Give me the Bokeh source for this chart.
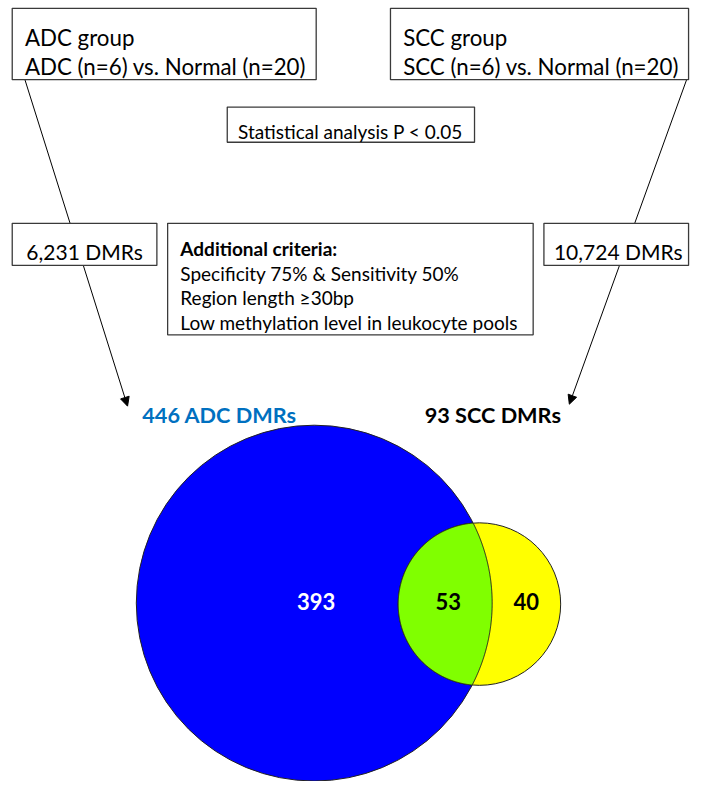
import numpy as np
from bokeh.plotting import figure
from bokeh.models import Arrow, NormalHead, Range1d
from bokeh.core.properties import value
from bokeh.embed import file_html
from bokeh.resources import INLINE

# ---------------- data ----------------
groups = ["ADC", "SCC"]
group_n = [6, 6]
normal_n = 20
p_threshold = 0.05
dmr_initial = [6231, 10724]
dmr_final = [446, 93]
overlap = 53
criteria_title = "Additional criteria:"
criteria = ["Specificity 75% & Sensitivity 50%",
            "Region length \u226530bp",
            "Low methylation level in leukocyte pools"]
region_counts = [dmr_final[0] - overlap, overlap, dmr_final[1] - overlap]

# ---------------- layout (reference pixel space) ----------------
FONT = "Lato"
BIG = "22.3px"
MID = "21px"
SMALL = "19px"
BOX_LINE = "#3a3a3a"
W, H = 707, 799

p = figure(width=691, height=781, x_range=Range1d(0, W), y_range=Range1d(H, 0),
           output_backend="svg", toolbar_location=None, min_border=0,
           x_axis_location=None, y_axis_location=None)
p.grid.visible = False
p.outline_line_color = None
p.background_fill_color = "white"

# arrows (drawn beneath boxes)
arrow_specs = [((25, 81), (130, 415)), ((702, 81), (582, 413))]
for (xs, ys), (xe, ye) in arrow_specs:
    a = Arrow(end=NormalHead(size=9, fill_color="black", line_color="black", line_width=1),
              x_start=xs, y_start=ys, x_end=xe, y_end=ye,
              line_color="black", line_width=1)
    a.level = "underlay"
    p.add_layout(a)

# boxes
box_l = [12, 399, 232, 12, 171, 556]
box_r = [323, 704, 485, 160, 545, 704]
box_t = [8, 8, 109, 228, 228, 228]
box_b = [81, 81, 145, 271, 342, 271]
p.quad(left=box_l, right=box_r, top=box_t, bottom=box_b,
       fill_color="white", line_color=BOX_LINE, line_width=1.3)

# box texts
txt = []
tx = []
ty = []
for i, g in enumerate(groups):
    x0 = [25, 412][i]
    txt += [f"{g} group", f"{g} (n={group_n[i]}) vs. Normal (n={normal_n})"]
    tx += [x0, x0]
    ty += [38, 68]
p.text(x=tx, y=ty, text=txt, text_font=value(FONT), text_font_size=value(BIG),
       text_baseline="alphabetic", text_align="left", text_color="black")

p.text(x=[358], y=[134], text=[f"Statistical analysis P < {p_threshold}"],
       text_font=value(FONT), text_font_size=value(SMALL),
       text_baseline="alphabetic", text_align="center", text_color="black")

p.text(x=[86, 632], y=[257, 257], text=[f"{d:,} DMRs" for d in dmr_initial],
       text_font=value(FONT), text_font_size=value(MID),
       text_baseline="alphabetic", text_align="center", text_color="black")

p.text(x=[184], y=[254], text=[criteria_title], text_font=value(FONT),
       text_font_size=value(SMALL), text_font_style="bold",
       text_baseline="alphabetic", text_align="left", text_color="black")
p.text(x=[184] * len(criteria), y=[279.5, 304, 329.5], text=criteria,
       text_font=value(FONT), text_font_size=value(SMALL),
       text_baseline="alphabetic", text_align="left", text_color="black")

# set labels
p.text(x=[145], y=[424], text=[f"{dmr_final[0]} {groups[0]} DMRs"],
       text_font=value(FONT), text_font_size=value("21.7px"), text_font_style="bold",
       text_baseline="alphabetic", text_align="left", text_color="#0070C0")
p.text(x=[434], y=[424], text=[f"{dmr_final[1]} {groups[1]} DMRs"],
       text_font=value(FONT), text_font_size=value("21.7px"), text_font_style="bold",
       text_baseline="alphabetic", text_align="left", text_color="black")

# Venn circles (area proportional to set size)
k = 8.62
R1 = k * np.sqrt(dmr_final[0])
R2 = k * np.sqrt(dmr_final[1])
c1 = (321.0, 616.5)
c2 = (490.0, 617.5)

p.circle(x=[c1[0]], y=[c1[1]], radius=R1, fill_color="#0000FF",
         line_color="#222222", line_width=1)
p.circle(x=[c2[0]], y=[c2[1]], radius=R2, fill_color="#FFFF00",
         line_color="#222222", line_width=1)

# lens (intersection)
t = np.linspace(0, 2 * np.pi, 1440, endpoint=False)
px2 = c2[0] + R2 * np.cos(t)
py2 = c2[1] + R2 * np.sin(t)
in1 = (px2 - c1[0]) ** 2 + (py2 - c1[1]) ** 2 <= R1 ** 2
px1 = c1[0] + R1 * np.cos(t)
py1 = c1[1] + R1 * np.sin(t)
in2 = (px1 - c2[0]) ** 2 + (py1 - c2[1]) ** 2 <= R2 ** 2
lx = np.concatenate([px2[in1], px1[in2]])
ly = np.concatenate([py2[in1], py1[in2]])
mx, my = lx.mean(), ly.mean()
order = np.argsort(np.arctan2(ly - my, lx - mx))
p.patch(x=lx[order], y=ly[order], fill_color="#80FF00", line_color="#222222", line_width=1)

# region counts
p.text(x=[323, 458, 538], y=[615, 615, 615], text=[str(v) for v in region_counts],
       text_font=value(FONT), text_font_size=value("22px"), text_font_style="bold",
       text_baseline="middle", text_align="center",
       text_color=["white", "black", "black"])

open("out.html", "w").write(file_html(p, INLINE))
